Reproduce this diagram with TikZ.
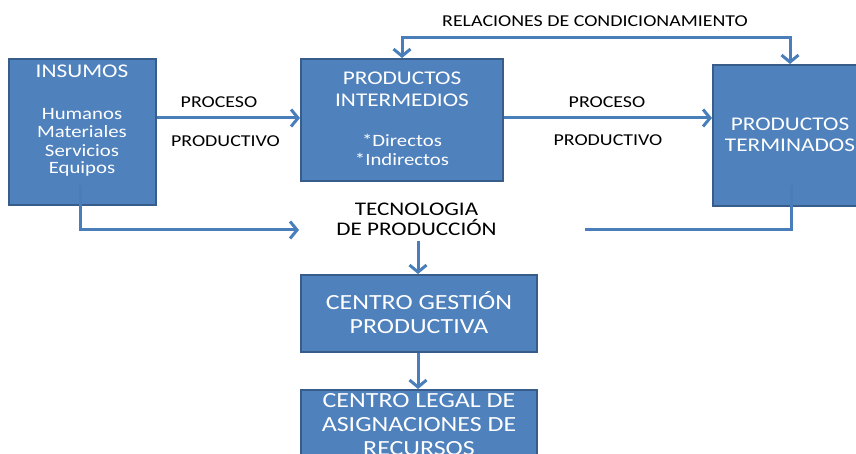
\documentclass[tikz,border=0pt]{standalone}
\usepackage{fontspec}
\setmainfont{Carlito}[FakeStretch=1.2]
\usetikzlibrary{arrows.meta}
\definecolor{boxfill}{HTML}{4F81BD}
\definecolor{boxline}{HTML}{385D8A}
\definecolor{arrowc}{HTML}{4A7EBB}
\newcommand{\fs}[1]{\fontsize{#1}{#1}\selectfont}
\begin{document}
\begin{tikzpicture}[x=1pt,y=-1pt,
  box/.style={draw=boxline,line width=2pt,fill=boxfill,inner sep=0pt},
  wtxt/.style={text=white,inner sep=0pt,anchor=base},
  btxt/.style={text=black,inner sep=0pt,anchor=base,font=\fs{16.6}},
  conn/.style={draw=arrowc,line width=3pt},
  tip/.tip={Straight Barb[length=7,width=17,line width=3pt]},
  arr/.style={conn,-tip},
  darr/.style={conn,tip-tip}
]
\useasboundingbox (0,0) rectangle (856,454);
\begin{scope}
\clip (0,0) rectangle (856,454);
% boxes
\node[box,minimum width=147,minimum height=146] (ins) at (82.5,132) {};
\node[box,minimum width=202,minimum height=122] (int) at (402,120) {};
\node[box,minimum width=154,minimum height=141] (term) at (790,135.5) {};
\node[box,minimum width=236,minimum height=77] (gest) at (419,313.5) {};
\node[box,minimum width=236,minimum height=95] (legal) at (419,437.5) {};
% texts in boxes
\node[wtxt,font=\fs{19.4}] (insT) at (82,78) {INSUMOS};
\node[wtxt,font=\fs{17.3}] (insL1) at (82,120) {Humanos};
\node[wtxt,font=\fs{17.3}] (insL2) at (82,138) {Materiales};
\node[wtxt,font=\fs{17.3}] (insL3) at (82,157) {Servicios};
\node[wtxt,font=\fs{17.3}] (insL4) at (82,174) {Equipos};
\node[wtxt,font=\fs{19.4}] (intT1) at (402,85) {PRODUCTOS};
\node[wtxt,font=\fs{19.4}] (intT2) at (402,107) {INTERMEDIOS};
\node[wtxt,font=\fs{17.3}] (intL1) at (402,147) {*Directos};
\node[wtxt,font=\fs{17.3}] (intL2) at (402,166) {*Indirectos};
\node[wtxt,font=\fs{19.4}] (termT1) at (790,131) {PRODUCTOS};
\node[wtxt,font=\fs{19.4}] (termT2) at (790,152) {TERMINADOS};
\node[wtxt,font=\fs{21.6}] (gestT1) at (419,309) {CENTRO GESTIÓN};
\node[wtxt,font=\fs{21.6}] (gestT2) at (419,333) {PRODUCTIVA};
\node[wtxt,font=\fs{21.6}] (legalT1) at (419,407) {CENTRO LEGAL DE};
\node[wtxt,font=\fs{21.6}] (legalT2) at (419,431) {ASIGNACIONES DE};
\node[wtxt,font=\fs{21.6}] (legalT3) at (419,455) {RECURSOS};
% labels
\node[btxt] (p1) at (219,108) {PROCESO};
\node[btxt] (q1) at (225.5,147) {PRODUCTIVO};
\node[btxt] (p2) at (607,108) {PROCESO};
\node[btxt] (q2) at (608,146) {PRODUCTIVO};
\node[btxt] (rel) at (595,27) {RELACIONES DE CONDICIONAMIENTO};
\node[btxt,font=\fs{19.3}] (tec1) at (416.5,216) {TECNOLOGIA};
\node[btxt,font=\fs{19.3}] (tec2) at (416.5,236) {DE PRODUCCIÓN};
% helper coordinates
\coordinate (rowA) at (0,118);
\coordinate (topY) at (0,38);
\coordinate (insB) at (80,185);
\coordinate (termB) at (791,185);
\coordinate (tecL) at (299,230);
\coordinate (tecR) at (585,230);
\coordinate (tecS) at (418,241);
% connectors
\draw[arr] (ins.east |- rowA) -- (int.west |- rowA);
\draw[arr] (int.east |- rowA) -- (term.west |- rowA);
\draw[darr] (int.north) -- (int.north |- topY) -- (term.north |- topY) -- (term.north);
\draw[arr] (insB) |- (tecL);
\draw[conn] (termB) |- (tecR);
\draw[arr] (tecS) -- (tecS |- gest.north);
\draw[arr] (gest.south -| tecS) -- (legal.north -| tecS);
\end{scope}
\end{tikzpicture}
\end{document}
